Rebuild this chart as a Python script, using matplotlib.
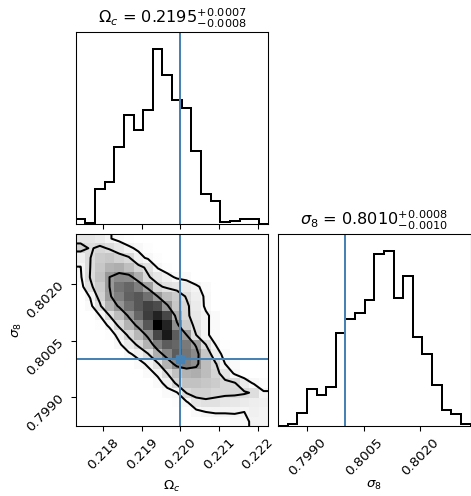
"""
Corner plot of the Omega_c / sigma_8 posterior: two marginal step
histograms and the joint 2D histogram with contours and truth lines.
"""

import numpy as np
import matplotlib
matplotlib.use("Agg")
import matplotlib.pyplot as plt
from matplotlib.colors import LinearSegmentedColormap
from matplotlib.ticker import FixedLocator, FormatStrFormatter

TRUTH_COLOR = "#4682b4"
PT = 0.965  # reference was rendered at ~96.5 dpi, we save at 100

omega_range = (0.21729, 0.22228)
sigma8_range = (0.79822, 0.80334)
truths = (0.2200, 0.8000)

# marginal histograms (20 bins each)
omega_counts = [14, 4, 106, 126, 231, 326, 281, 341, 521, 444,
                370, 346, 219, 89, 68, 6, 10, 14, 16, 1]
sigma8_counts = [2, 8, 41, 111, 93, 118, 281, 323, 341, 378,
                 516, 525, 386, 450, 268, 216, 125, 50, 38, 6]

# joint histogram, rows from the top (high sigma_8) down, columns along Omega_c
density_rows = [
    [10, 10, 8, 4.5, 2, 1, 0, 0, 0, 0, 0, 0, 0, 0, 0, 0, 0, 0, 0, 0],
    [18, 13, 16, 13, 9, 5, 3, 1, 0, 0, 0, 0, 0, 0, 0, 0, 0, 0, 0, 0],
    [6, 13.8, 20, 22, 18, 15, 6, 3, 1, 0, 0, 0, 0, 0, 0, 0, 0, 0, 0, 0],
    [3.8, 14, 22, 30, 32, 25, 17, 12, 3.5, 1, 0, 0, 0, 0, 0, 0, 0, 0, 0, 0],
    [3, 14.5, 24, 40, 46, 45, 32, 15, 10, 6, 3, 2, 0, 0, 0, 0, 0, 0, 0, 0],
    [1, 12, 20, 40, 55, 60, 50, 36, 16, 12, 10, 8, 5, 2, 0, 0, 0, 0, 0, 0],
    [0, 4.5, 18, 38, 50, 62, 66, 56, 40, 26, 20, 13, 7, 3, 0, 0, 0, 0, 0, 0],
    [0, 2, 12, 30, 42, 56, 66, 74, 70, 42, 22, 16, 8, 3, 0, 0, 0, 0, 0, 0],
    [0, 0, 4, 14, 26, 42, 60, 76, 86, 72, 32, 16, 9, 5, 2, 0, 0, 0, 0, 0],
    [0, 0, 1, 5, 16, 30, 44, 66, 100, 86, 44, 20, 11, 5, 2, 0, 0, 0, 0, 0],
    [0, 0, 0, 1, 6, 16, 28, 44, 72, 90, 64, 40, 14, 5, 2, 0, 0, 0, 0, 0],
    [0, 0, 0, 0, 3, 8, 16, 30, 50, 64, 60, 52, 38, 14, 4, 1, 0, 0, 0, 0],
    [0, 0, 0, 0, 0, 3, 6, 13, 32, 48, 64, 54, 46, 22, 7, 2, 0, 0, 0, 0],
    [0, 0, 0, 0, 0, 0, 2, 5, 12, 30, 46, 50, 44, 26, 15, 4, 2, 0, 0, 0],
    [0, 0, 0, 0, 0, 0, 0, 2, 5, 14, 24, 30, 32, 26, 17, 10, 3, 0, 0, 0],
    [0, 0, 0, 0, 0, 0, 0, 0, 2, 6, 16, 24, 24, 22, 20, 16, 14.5, 8, 3, 1.5],
    [0, 0, 0, 0, 0, 0, 0, 0, 0, 2, 3.5, 14.5, 18, 18, 16, 16, 16, 15, 13, 4.5],
    [0, 0, 0, 0, 0, 0, 0, 0, 0, 0, 1, 3, 10, 12, 12, 10, 9, 8, 7, 6],
    [0, 0, 0, 0, 0, 0, 0, 0, 0, 0, 0, 0, 2, 4, 4.5, 4.5, 4.5, 4, 6, 5],
    [0, 0, 0, 0, 0, 0, 0, 0, 0, 0, 0, 0, 0, 0, 1, 1, 2, 3, 5, 5],
]
contour_levels = [4, 14, 40]

omega_ticks = [0.218, 0.219, 0.220, 0.221, 0.222]
sigma8_ticks = [0.7990, 0.8005, 0.8020]
omega_label = r"$\Omega_c$"
sigma8_label = r"$\sigma_8$"
omega_title = r"$\Omega_c$ = $0.2195_{-0.0008}^{+0.0007}$"
sigma8_title = r"$\sigma_8$ = $0.8010_{-0.0010}^{+0.0008}$"


def padded_grid(H, xedges, yedges):
    """Pad the histogram like corner does so contours can run to the frame."""
    xc = 0.5 * (xedges[1:] + xedges[:-1])
    yc = 0.5 * (yedges[1:] + yedges[:-1])
    H2 = H.min() + np.zeros((H.shape[0] + 4, H.shape[1] + 4))
    H2[2:-2, 2:-2] = H
    H2[2:-2, 1] = H[:, 0]
    H2[2:-2, -2] = H[:, -1]
    H2[1, 2:-2] = H[0]
    H2[-2, 2:-2] = H[-1]
    H2[1, 1] = H[0, 0]
    H2[1, -2] = H[0, -1]
    H2[-2, 1] = H[-1, 0]
    H2[-2, -2] = H[-1, -1]
    dx, dy = np.diff(xc[:2])[0], np.diff(yc[:2])[0]
    X2 = np.concatenate([xc[0] + np.array([-2, -1]) * dx, xc, xc[-1] + np.array([1, 2]) * dx])
    Y2 = np.concatenate([yc[0] + np.array([-2, -1]) * dy, yc, yc[-1] + np.array([1, 2]) * dy])
    return X2, Y2, H2


def style_ticks(ax):
    ax.tick_params(labelsize=10 * PT, length=3.5 * PT, width=0.8 * PT)
    for s in ax.spines.values():
        s.set_linewidth(0.8 * PT)


W, H = 471, 496
fig = plt.figure(figsize=(W / 100, H / 100), dpi=100)
size = 192.6
x0, x1 = 75.8, 278.0
ytop, ybot = 224.2, 426.4

ax_top = fig.add_axes([x0 / W, (H - ytop) / H, size / W, size / H])
ax_2d = fig.add_axes([x0 / W, (H - ybot) / H, size / W, size / H])
ax_right = fig.add_axes([x1 / W, (H - ybot) / H, size / W, size / H])

omega_edges = np.linspace(omega_range[0], omega_range[1], len(omega_counts) + 1)
sigma8_edges = np.linspace(sigma8_range[0], sigma8_range[1], len(sigma8_counts) + 1)

# --- marginal: Omega_c
ax_top.stairs(omega_counts, omega_edges, color="k", linewidth=1.5 * PT)
ax_top.axvline(truths[0], color=TRUTH_COLOR, linewidth=1.5 * PT)
ax_top.set_xlim(omega_range)
ax_top.set_ylim(0, 1.1 * max(omega_counts))
ax_top.set_yticks([])
ax_top.xaxis.set_major_locator(FixedLocator(omega_ticks))
ax_top.set_xticklabels([])
ax_top.set_title(omega_title, fontsize=12 * PT)
style_ticks(ax_top)

# --- marginal: sigma_8
ax_right.stairs(sigma8_counts, sigma8_edges, color="k", linewidth=1.5 * PT)
ax_right.axvline(truths[1], color=TRUTH_COLOR, linewidth=1.5 * PT)
ax_right.set_xlim(sigma8_range)
ax_right.set_ylim(0, 1.1 * max(sigma8_counts))
ax_right.set_yticks([])
ax_right.xaxis.set_major_locator(FixedLocator(sigma8_ticks))
ax_right.xaxis.set_major_formatter(FormatStrFormatter("%.4f"))
ax_right.set_title(sigma8_title, fontsize=12 * PT)
ax_right.set_xlabel(sigma8_label, fontsize=10 * PT)
ax_right.xaxis.set_label_coords(0.5, -0.27)
style_ticks(ax_right)
for lab in ax_right.get_xticklabels():
    lab.set_rotation(45)

# --- joint histogram
Hgrid = np.array(density_rows, dtype=float)[::-1]  # bottom row first
density_cmap = LinearSegmentedColormap.from_list("density", ["white", "black"])
ax_2d.pcolormesh(omega_edges, sigma8_edges, Hgrid, cmap=density_cmap,
                 vmin=0, vmax=Hgrid.max())
X2, Y2, H2 = padded_grid(Hgrid, omega_edges, sigma8_edges)
ax_2d.contour(X2, Y2, H2, contour_levels, colors="k", linewidths=1.5 * PT)
ax_2d.axvline(truths[0], color=TRUTH_COLOR, linewidth=1.5 * PT)
ax_2d.axhline(truths[1], color=TRUTH_COLOR, linewidth=1.5 * PT)
ax_2d.plot(truths[0], truths[1], "s", color=TRUTH_COLOR, markersize=6 * PT)
ax_2d.set_xlim(omega_range)
ax_2d.set_ylim(sigma8_range)
ax_2d.xaxis.set_major_locator(FixedLocator(omega_ticks))
ax_2d.xaxis.set_major_formatter(FormatStrFormatter("%.3f"))
ax_2d.yaxis.set_major_locator(FixedLocator(sigma8_ticks))
ax_2d.yaxis.set_major_formatter(FormatStrFormatter("%.4f"))
ax_2d.set_xlabel(omega_label, fontsize=10 * PT)
ax_2d.set_ylabel(sigma8_label, fontsize=10 * PT)
ax_2d.xaxis.set_label_coords(0.5, -0.27)
ax_2d.yaxis.set_label_coords(-0.27, 0.5)
style_ticks(ax_2d)
for lab in ax_2d.get_xticklabels() + ax_2d.get_yticklabels():
    lab.set_rotation(45)

fig.savefig("out.png", dpi=100)
